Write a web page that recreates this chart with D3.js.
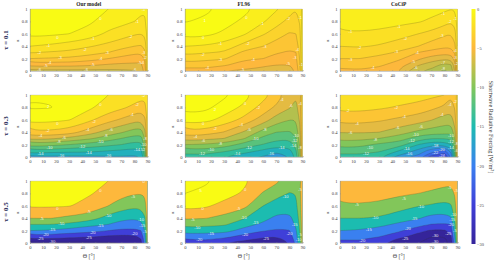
<!DOCTYPE html>
<html><head><meta charset="utf-8">
<script src="https://cdn.jsdelivr.net/npm/d3@7"></script>
<style>html,body{margin:0;padding:0;background:#fff}svg{display:block}</style>
</head><body><svg id="c" width="500" height="262"></svg>
<script>
// Grid axes of the forcing fields
const thetas = [0,15,30,45,60,70,80,85,88,90];
const alphas = [1,.8,.6,.4,.3,.2,.1,.05,0];
// Each field: one column per theta, values for alphas 1 -> 0
const ourTau1 = [
[.9,.6,.3,-1,-1.9,-3,-4.6,-5.5,-6.3],
[.8,.6,.2,-1.2,-2.1,-3.1,-4.6,-5.5,-6.3],
[.6,.4,0,-1.5,-2.2,-3.2,-4.6,-5.5,-6.3],
[.3,.2,-.4,-1.9,-2.6,-3.5,-4.8,-5.5,-6.3],
[0,-.5,-1.2,-2.3,-3,-4,-5.1,-5.7,-6.3],
[-.3,-.7,-1.5,-2.7,-3.4,-4.3,-5.2,-5.7,-6.2],
[-.6,-1,-1.9,-3,-3.8,-4.5,-5.2,-5.7,-6.1],
[-.8,-1.2,-2,-3.1,-3.8,-4.6,-5.2,-5.5,-5.7],
[-.9,-1.1,-1.8,-2.7,-3.2,-3.8,-4.2,-4.4,-4.5],
[-.5,-.5,-.6,-.8,-1,-1.1,-1.2,-1.3,-1.3]];
const flTau1 = [
[1.3,1.05,.4,-1,-1.7,-2.5,-3.4,-4,-4.5],
[1.2,.85,.3,-1.1,-1.9,-2.7,-3.6,-4,-4.6],
[.8,.4,-.2,-1.4,-2.1,-2.9,-3.8,-4.4,-5],
[.3,-.2,-.85,-2.4,-3.2,-3.8,-4.5,-4.8,-5.2],
[-.4,-.9,-1.9,-3,-3.5,-4,-4.8,-5.1,-5.5],
[-.9,-1.6,-2.5,-3.5,-3.9,-4.4,-5,-5.3,-5.6],
[-1.5,-2.3,-3.1,-3.8,-4.1,-4.6,-5,-5.2,-5.4],
[-2,-2.4,-3,-3.6,-4,-4.2,-4.5,-4.7,-4.8],
[-1.7,-1.9,-2.2,-2.5,-2.7,-2.9,-3,-3.1,-3.2],
[-.4,-.4,-.5,-.6,-.7,-.8,-.8,-.9,-.9]];
const coTau1 = [
[-.3,-.6,-1.15,-2,-2.5,-3,-3.6,-3.95,-4.3],
[-.3,-.6,-1.1,-1.9,-2.45,-3,-3.6,-3.9,-4.1],
[-.3,-.65,-1.2,-2.1,-2.7,-3.3,-3.8,-4.1,-4.4],
[-.4,-.75,-1.5,-2.6,-3.1,-3.8,-4.5,-4.8,-5],
[-.5,-.9,-2,-3,-4,-4.8,-5.9,-6.4,-6.8],
[-.6,-1.2,-2.3,-3.5,-4.3,-5.5,-6.5,-6.9,-7.4],
[-.8,-1.6,-2.8,-3.8,-4.6,-5.8,-7.3,-7.8,-8.2],
[-1,-1.9,-3,-3.8,-4.5,-5.7,-7,-7.4,-7.7],
[-.9,-1.6,-2.4,-3.2,-3.8,-4.6,-5.3,-5.6,-5.8],
[-.5,-.6,-.8,-1,-1.1,-1.3,-1.5,-1.6,-1.7]];
const ourTau3 = [
[1.8,2.2,.7,-2.4,-5.4,-9,-12.4,-14.4,-16.5],
[1.7,2.1,.6,-2.5,-5.6,-9.3,-13,-14.8,-16.5],
[1.4,1.5,.1,-3,-6.6,-10,-13.2,-15,-16.6],
[.9,.4,-1.5,-5,-7.6,-10.8,-13.4,-14.7,-16.6],
[0,-.9,-3.3,-6.9,-9,-11.5,-14,-15,-16.4],
[-.4,-1.6,-4.3,-7.8,-10,-12,-14.3,-15.2,-16.2],
[-.9,-2.5,-5.3,-9,-10.8,-12.8,-14.6,-15.6,-16.4],
[-1.2,-3,-5.5,-9,-10.8,-12.6,-14.4,-15.4,-15.8],
[-1.4,-2.6,-4.4,-6.5,-7.8,-9,-10.4,-11,-11.4],
[-.6,-.8,-1.1,-1.5,-1.8,-2,-2.3,-2.4,-2.5]];
const flTau3 = [
[3.2,2.8,.9,-2.7,-5,-8,-10.8,-12,-13],
[3,2.6,.8,-2.9,-5.4,-8.2,-10.8,-11.9,-12.7],
[2.4,1.1,-.7,-4.1,-6,-8.8,-11.6,-12.9,-14],
[.8,-.4,-2.6,-6.2,-7.8,-10.8,-13,-14.2,-15],
[-1.3,-2.8,-5,-8.8,-10.6,-12.1,-14.4,-15.2,-16.3],
[-2.8,-4.4,-7,-10,-11.4,-13.1,-15.3,-16.3,-17],
[-5,-5.8,-8,-10.2,-11.7,-13,-14.6,-15.4,-15.9],
[-5.8,-6.6,-8,-9.2,-10.2,-11.2,-12.2,-12.8,-13],
[-4.5,-4.8,-5.6,-6.4,-6.9,-7.5,-8,-8.3,-8.4],
[-.8,-.9,-1.1,-1.3,-1.4,-1.6,-1.7,-1.8,-1.8]];
const coTau3 = [
[-.6,-1.4,-3.3,-5.9,-7.3,-9.2,-11,-12,-12.8],
[-.6,-1.4,-3.3,-5.8,-7.4,-9.4,-11,-12,-12.6],
[-.7,-1.7,-3.7,-6,-8,-10.4,-11.6,-12.6,-13.4],
[-.9,-2.2,-4.4,-7.1,-9,-11,-14,-15.4,-16.8],
[-1,-2.8,-5,-8.5,-11,-14,-16.6,-17.6,-19],
[-1.5,-3.5,-5.9,-9,-12,-15.4,-19,-20.7,-23],
[-2,-4.4,-7,-9.2,-11.8,-15.4,-20.6,-22.4,-24.2],
[-3.8,-5,-7,-9.5,-11.6,-14,-17,-18.5,-19.5],
[-2.8,-3.8,-5,-6.6,-7.8,-9,-10.6,-11.3,-11.8],
[-1,-1.2,-1.4,-1.7,-2,-2.2,-2.5,-2.6,-2.7]];
const ourTau5 = [
[1.5,1,.7,-5,-10,-15,-22.5,-26.8,-31],
[1.5,1,.6,-4.8,-10,-15.5,-22.5,-26.5,-31],
[1.3,.9,.3,-6.2,-11,-17,-24,-27.5,-31],
[.9,.5,-1.6,-7.3,-13.6,-18,-24.6,-27.7,-31],
[0,-1.5,-5,-12,-15,-20,-26,-28.5,-30.5],
[-1,-3.5,-7.6,-13.7,-17,-21,-26.5,-28,-30],
[-1.6,-4.6,-9,-14.5,-17.7,-21,-26,-27.5,-29],
[-2,-4.8,-8.6,-13.6,-16.5,-20,-24,-25.5,-26.2],
[-2,-4.2,-7,-10.5,-12.5,-14.6,-16.5,-17.2,-18],
[-.7,-1,-1.5,-2,-2.4,-2.8,-3.2,-3.4,-3.6]];
const flTau5 = [
[6,5,1.8,-4.4,-8,-12.4,-17.6,-20.6,-23.5],
[5.8,4,1,-4.8,-8.6,-13,-17.8,-20,-23.2],
[3.4,2.2,-1.8,-6.3,-9.3,-13,-18.6,-22,-25],
[.8,-.5,-3.5,-9.6,-13,-16.8,-22,-24.5,-26.6],
[-2.2,-5.5,-10,-13.6,-16,-19.6,-24.4,-26.4,-28],
[-4,-8.2,-12.5,-16,-17.8,-20.8,-25,-27,-28],
[-8,-10.2,-12.8,-16.2,-18,-20.2,-22.6,-23.6,-24.6],
[-9,-9.8,-11,-13,-14,-15.5,-17,-18,-18.8],
[-5.5,-6,-7,-8,-8.8,-9.5,-10.4,-10.8,-11],
[-1.2,-1.3,-1.5,-1.8,-2,-2.1,-2.3,-2.4,-2.5]];
const coTau5 = [
[-1.5,-3,-5.6,-10,-12.5,-15,-18.4,-20,-21],
[-1.5,-3,-5.5,-10,-12.6,-15.4,-18.6,-20,-20.8],
[-1.7,-3.3,-6,-10.4,-13.5,-17,-20,-22.2,-23.6],
[-2,-4.1,-8,-12.6,-16,-19,-23.8,-26,-27],
[-2.8,-5,-9.8,-14.6,-18,-23.7,-27,-29,-30],
[-3.2,-5.6,-10.6,-16.8,-20.2,-25.6,-30,-31,-31.5],
[-3.6,-6.5,-11.7,-16.7,-20.6,-25.7,-30,-31.3,-31.6],
[-4,-6.6,-10.6,-15.6,-20,-23,-25.6,-27.2,-28],
[-3,-4.5,-6.5,-9,-11,-12.8,-14.8,-15.8,-16.4],
[-1,-1.2,-1.5,-1.9,-2.1,-2.5,-2.8,-3,-3.2]];

// Contour level steps per optical depth row
const levelsTau1 = d3.range(-10,3,1);
const levelsTau3 = d3.range(-26,5,2);
const levelsTau5 = d3.range(-35,10,5);

// Contour labels: theta, alpha, text
const labOur1 = [[21,.54,"0"],[54,.84,"0"],[14,.41,"-1"],[48,.52,"-1"],[82,.8,"-1"],[87,.99,"-1"],[7,.29,"-2"],[42,.35,"-2"],[77,.55,"-2"],[23,.22,"-3"],[59,.3,"-3"],[15,.14,"-4"],[54,.2,"-4"],[12,.09,"-5"],[48,.1,"-5"],[84,.13,"-5"],[7,.02,"-6"],[43,.02,"-6"],[80,.02,"-6"],[87,.3,"-3"],[88,.22,"-2"],[86,.14,"-4"]];
const labFl1 = [[15,.82,"1"],[47,.87,"0"],[59,.77,"-1"],[79,.85,"-2"],[88,.87,"-1"],[14,.54,"0"],[27,.44,"-1"],[48,.45,"-2"],[61,.4,"-3"],[86,.35,"-4"],[13.5,.26,"-2"],[27,.18,"-3"],[52,.19,"-4"],[79,.12,"-5"],[17,.05,"-4"],[44,.03,"-5"],[84,.22,"-3"],[89,.1,"-1"]];
const labCo1 = [[8,.63,"-1"],[45,.71,"-1"],[79,.93,"-1"],[15,.38,"-2"],[50,.53,"-2"],[84,.8,"-2"],[8,.19,"-3"],[43,.31,"-3"],[78,.57,"-3"],[25,.06,"-4"],[59,.3,"-4"],[88,.33,"-4"],[56,.15,"-5"],[58,.06,"-6"],[79,.14,"-7"],[79,.04,"-8"],[88,.85,"-1"],[88,.22,"-3"],[89,.12,"-2"]];
const labOur3 = [[14,.81,"2"],[54,.84,"0"],[21,.54,"0"],[82,.84,"-2"],[87,.99,"-2"],[78,.69,"-4"],[49,.58,"-2"],[8,.35,"-4"],[13.5,.42,"-2"],[44,.45,"-4"],[62,.45,"-6"],[26,.31,"-6"],[58,.34,"-8"],[22,.25,"-8"],[54,.25,"-10"],[15,.15,"-10"],[40,.17,"-12"],[8,.06,"-14"],[45,.07,"-14"],[60,.02,"-16"],[24,.02,"-16"],[82,.12,"-14"],[88,.3,"-8"],[87,.2,"-10"],[86,.12,"-12"]];
const labFl3 = [[23,.77,"2"],[46,.87,"0"],[56,.8,"-2"],[74,.92,"-4"],[81,.83,"-6"],[88,.87,"-4"],[14,.54,"0"],[23,.46,"-2"],[43,.52,"-4"],[49,.45,"-6"],[61,.45,"-8"],[8,.33,"-4"],[14,.26,"-6"],[27,.22,"-8"],[54,.29,"-10"],[20,.12,"-10"],[13,.05,"-12"],[49,.16,"-12"],[40,.05,"-14"],[74,.16,"-14"],[66,.06,"-16"],[85,.34,"-10"],[84,.27,"-12"],[83,.18,"-14"],[88,.15,"-8"]];
const labCo3 = [[6,.75,"-2"],[43,.8,"-2"],[84,.85,"-4"],[13,.54,"-4"],[49,.65,"-4"],[78,.69,"-4"],[8,.39,"-6"],[44,.48,"-6"],[62,.49,"-6"],[27,.28,"-8"],[23,.16,"-10"],[58,.37,"-10"],[55,.26,"-12"],[20,.05,"-12"],[51,.14,"-14"],[53,.05,"-16"],[73,.18,"-18"],[78,.125,"-20"],[73,.07,"-22"],[78,.02,"-24"],[85,.34,"-10"],[85,.25,"-12"],[85,.16,"-14"],[88,.9,"-2"],[89,.22,"-8"],[89,.1,"-6"]];
const labOur5 = [[21,.55,"0"],[54,.85,"0"],[87,.99,"0"],[79,.75,"-5"],[45,.5,"-5"],[9,.39,"-5"],[17,.22,"-15"],[24,.31,"-10"],[60,.44,"-10"],[54,.28,"-15"],[12,.14,"-20"],[48,.17,"-20"],[8,.07,"-25"],[45,.09,"-25"],[17,.02,"-30"],[80,.16,"-20"],[85,.38,"-10"],[86,.28,"-15"],[88,.18,"-5"]];
const labFl5 = [[12,.85,"5"],[46,.86,"0"],[13.5,.55,"0"],[41,.55,"-5"],[6,.38,"-5"],[45,.41,"-10"],[77,.75,"-10"],[9.5,.25,"-10"],[54,.33,"-15"],[20,.16,"-15"],[11,.05,"-20"],[46,.14,"-20"],[62,.08,"-25"],[80,.16,"-20"],[84,.3,"-15"],[88,.87,"-5"],[88,.14,"-5"],[87,.06,"-10"]];
const labCo5 = [[13,.62,"-5"],[49,.72,"-5"],[84,.89,"-5"],[62,.59,"-10"],[27,.41,"-10"],[57,.4,"-15"],[22,.22,"-15"],[52,.23,"-20"],[17,.04,"-20"],[50,.08,"-25"],[73,.12,"-30"],[73,.02,"-30"],[83,.15,"-25"],[85,.3,"-20"],[86,.38,"-15"],[87,.46,"-10"],[89,.85,"-5"],[88,.2,"-5"]];

const colNames = ["Our model","FL96","CoCiP"];
const rowNames = ["\u03c4 = 0.1","\u03c4 = 0.3","\u03c4 = 0.5"];
const xTicks = [0,10,20,30,40,50,60,70,80,90];
const yTicks = [0,.2,.4,.6,.8,1];
const barTicks = [0,-5,-10,-15,-20,-25,-30];
const barColors = ["#f9fb14","#fdb83c","#82c65a","#1cbcb0","#3a80f0","#3f3fd8","#35249a"];
const axisLabelX = "\u0398 [\u00b0]";
const axisLabelY = "\u03b1";
const barLabel = "Shortwave Radiative Forcing [W/m";

const fields = [[ourTau1,flTau1,coTau1],[ourTau3,flTau3,coTau3],[ourTau5,flTau5,coTau5]];
const labels = [[labOur1,labFl1,labCo1],[labOur3,labFl3,labCo3],[labOur5,labFl5,labCo5]];
const levels = [levelsTau1,levelsTau3,levelsTau5];

const colX = [30,185,340], plotW = 117.5;
const rowY = [9,95,181], plotH = 62;
const serif = "'Liberation Serif',serif";
const color = d3.scaleLinear().domain(barTicks).range(barColors).clamp(true);
const svg = d3.select("#c");
const nx = thetas.length, ny = alphas.length;
const defs = svg.append("defs");

// grid position -> data value along the non-uniform axis; the half cell
// outside the grid maps beyond the axis range and is clipped off
function gridMap(arr,before,after){
  return g=>{
    const u=g-.5;
    if(u<0) return arr[0]-u*2*before;
    if(u>arr.length-1) return arr[arr.length-1]+(u-arr.length+1)*2*after;
    const i=Math.min(arr.length-2,Math.floor(u));
    return arr[i]+(arr[i+1]-arr[i])*(u-i);
  };
}
const gx = gridMap(thetas,-8,8), gy = gridMap(alphas,.1,-.1);
const ringPath = d3.line().curve(d3.curveBasisClosed);

fields.forEach((rowF,r)=>rowF.forEach((F,c)=>{
  const x = d3.scaleLinear().domain([0,90]).range([0,plotW]);
  const y = d3.scaleLinear().domain([0,1]).range([plotH,0]);
  const g = svg.append("g").attr("transform",`translate(${colX[c]},${rowY[r]})`);
  const id = `clip${r}${c}`;
  defs.append("clipPath").attr("id",id).append("rect").attr("width",plotW).attr("height",plotH);
  const vals = [];
  for(let j=0;j<ny;j++) for(let i=0;i<nx;i++) vals.push(F[i][j]);
  const lv = levels[r];
  const conts = d3.contours().size([nx,ny]).thresholds(lv)(vals);
  const plot = g.append("g").attr("clip-path",`url(#${id})`);
  plot.append("rect").attr("width",plotW).attr("height",plotH).attr("fill",color(lv[0]));
  conts.forEach(ct=>{
    const d = ct.coordinates.map(p=>p.map(ring=>ringPath(ring.slice(0,-1).map(q=>[x(gx(q[0])),y(gy(q[1]))]))).join("")).join("");
    plot.append("path").attr("d",d).attr("fill",color(ct.value)).attr("fill-rule","evenodd")
      .attr("stroke","#3d3a20").attr("stroke-opacity",.5).attr("stroke-width",.4).attr("stroke-linejoin","round");
  });
  g.append("g").selectAll("text").data(labels[r][c]).join("text")
    .attr("x",d=>x(d[0])).attr("y",d=>y(d[1])).attr("dy",".35em").attr("text-anchor","middle")
    .attr("font-family","'Liberation Sans',sans-serif").attr("font-size",4.2).attr("fill","#fff").attr("fill-opacity",.9)
    .text(d=>d[2]);
  const ax = g.append("g").attr("transform",`translate(0,${plotH})`)
    .call(d3.axisBottom(x).tickValues(xTicks).tickSize(-1).tickPadding(2.4).tickFormat(d3.format("d")));
  const ay = g.append("g")
    .call(d3.axisLeft(y).tickValues(yTicks).tickSize(-1).tickPadding(2.4).tickFormat(d=>String(d)));
  [ax,ay].forEach(a=>{
    a.selectAll("path,line").attr("stroke","#777").attr("stroke-width",.35);
    a.selectAll("text").attr("font-family",serif).attr("font-size",4.6).attr("fill","#444");
  });
  g.append("rect").attr("width",plotW).attr("height",plotH).attr("fill","none").attr("stroke","#bbb").attr("stroke-width",.4);
  g.append("text").attr("transform",`translate(-11,${plotH/2+1}) rotate(-90)`).attr("text-anchor","middle")
    .attr("font-family",serif).attr("font-size",5).attr("fill","#444").text(axisLabelY);
  if(r===0) g.append("text").attr("x",plotW/2).attr("y",-2.6).attr("text-anchor","middle")
    .attr("font-family",serif).attr("font-weight","bold").attr("font-size",5.4).attr("fill","#222").text(colNames[c]);
  if(r===2) g.append("text").attr("x",plotW/2).attr("y",plotH+14.5).attr("text-anchor","middle")
    .attr("font-family",serif).attr("font-size",6).attr("fill","#444").text(axisLabelX);
  if(c===0) g.append("text").attr("transform",`translate(-22,${plotH/2}) rotate(-90)`).attr("text-anchor","middle")
    .attr("font-family",serif).attr("font-weight","bold").attr("font-size",7).attr("fill","#1a2550").text(rowNames[r]);
}));

// Colour bar
const by = d3.scaleLinear().domain([0,-30]).range([9,244]);
const grad = defs.append("linearGradient").attr("id","bar").attr("x1",0).attr("x2",0).attr("y1",0).attr("y2",1);
barTicks.forEach(t=>grad.append("stop").attr("offset",(t/-30)).attr("stop-color",color(t)));
svg.append("rect").attr("x",471.5).attr("y",by(0)).attr("width",4).attr("height",by(-30)-by(0)).attr("fill","url(#bar)");
const bAxis = svg.append("g").attr("transform","translate(475.5,0)")
  .call(d3.axisRight(by).tickValues(barTicks).tickSize(0).tickPadding(1.6).tickFormat(d3.format("d")));
bAxis.select("path").remove();
bAxis.selectAll("text").attr("font-family",serif).attr("font-size",4.4).attr("fill","#444");
const t = svg.append("text").attr("transform","translate(489,127) rotate(90)").attr("text-anchor","middle")
  .attr("font-family",serif).attr("font-size",6.2).attr("fill","#333");
t.append("tspan").text(barLabel);
t.append("tspan").attr("dy",-2).attr("font-size",4).text("2");
t.append("tspan").attr("dy",2).text("]");
</script></body></html>
